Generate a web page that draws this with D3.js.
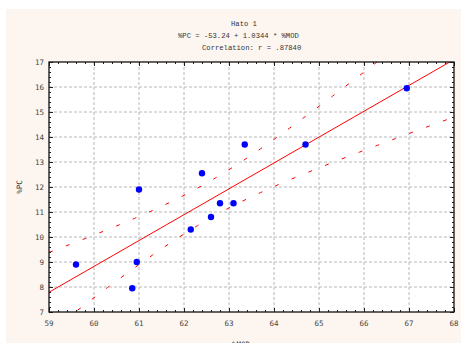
<!DOCTYPE html>
<html>
<head>
<meta charset="utf-8">
<script src="https://cdn.jsdelivr.net/npm/d3@7"></script>
<style>
  body { margin: 0; background: #fff; }
  text { font-family: "DejaVu Sans Mono", "Liberation Mono", monospace; }
  .title { font-family: "Liberation Mono", "DejaVu Sans Mono", monospace; }
</style>
</head>
<body>
<svg id="chart" width="461" height="343"></svg>
<script>
// data
const modValues = [59.6, 60.85, 60.95, 61.0, 62.15, 62.4, 62.6, 62.8, 63.1, 63.35, 64.7, 66.95];
const pcValues  = [8.9, 7.95, 9.0, 11.9, 10.3, 12.55, 10.8, 11.35, 11.35, 13.7, 13.7, 15.95];
const coef = [-53.24, 1.0344];           // intercept, slope (from title)
const titleLines = ["Hato 1", "%PC = -53.24 + 1.0344 * %MOD", "Correlation: r = .87840"];
const xTicks = [59, 60, 61, 62, 63, 64, 65, 66, 67, 68];
const yTicks = [7, 8, 9, 10, 11, 12, 13, 14, 15, 16, 17];

const margin = { top: 62, left: 49, right: 7, bottom: 31 };
const W = 461, H = 343;
const width = W - margin.left - margin.right;
const height = H - margin.top - margin.bottom;

const svg = d3.select('#chart');

// cream background
svg.append('rect').attr('x', 6).attr('y', 9).attr('width', W - 6).attr('height', H - 9)
    .style('fill', '#fdf6f0');

const xScale = d3.scaleLinear().domain([59, 68]).range([margin.left, margin.left + width]);
const yScale = d3.scaleLinear().domain([7, 17]).range([margin.top + height, margin.top]);

svg.append('defs').append('clipPath').attr('id', 'plotclip')
    .append('rect')
    .attr('x', margin.left).attr('y', margin.top)
    .attr('width', width).attr('height', height);

// plot area
svg.append('rect')
    .attr('x', margin.left).attr('y', margin.top)
    .attr('width', width).attr('height', height)
    .style('fill', '#fff');

// grid
const grid = svg.append('g').attr('class', 'grid');
grid.selectAll('.gx').data(xTicks.slice(1, -1)).enter().append('line')
    .attr('x1', d => xScale(d)).attr('x2', d => xScale(d))
    .attr('y1', margin.top).attr('y2', margin.top + height)
    .style('stroke', '#b8b8b8').style('stroke-dasharray', '3,2');
grid.selectAll('.gy').data(yTicks.slice(1, -1)).enter().append('line')
    .attr('y1', d => yScale(d)).attr('y2', d => yScale(d))
    .attr('x1', margin.left).attr('x2', margin.left + width)
    .style('stroke', '#b8b8b8').style('stroke-dasharray', '3,2');

// regression + 95% confidence bands
const n = modValues.length;
const xMean = d3.mean(modValues);
const sxx = d3.sum(modValues, d => (d - xMean) * (d - xMean));
const fit = x => coef[0] + coef[1] * x;
const sse = d3.sum(modValues, (d, i) => Math.pow(pcValues[i] - fit(d), 2));
const s = Math.sqrt(sse / (n - 2));
const tCrit = 2.228;
const xs = d3.range(59, 68.001, 0.1);
const band = sign => xs.map(x => [x, fit(x) + sign * tCrit * s * Math.sqrt(1 / n + (x - xMean) * (x - xMean) / sxx)]);

const line = d3.line().x(d => xScale(d[0])).y(d => yScale(d[1]));
const plot = svg.append('g').attr('clip-path', 'url(#plotclip)');

plot.append('path').datum([[59, fit(59)], [68, fit(68)]])
    .attr('d', line)
    .style('fill', 'none').style('stroke', '#ff0000').style('stroke-width', 1);
[1, -1].forEach(sign => {
    plot.append('path').datum(band(sign))
        .attr('d', line)
        .style('fill', 'none').style('stroke', '#ff0000').style('stroke-width', 1)
        .style('stroke-dasharray', '4,14');
});

// points
plot.selectAll('.pt').data(modValues).enter().append('circle')
    .attr('class', 'pt')
    .attr('cx', d => xScale(d))
    .attr('cy', (d, i) => yScale(pcValues[i]))
    .attr('r', 3.2)
    .style('fill', '#0000ff');

// axes (ticks inside)
const minorX = d3.range(59, 68.001, 0.2);
const minorY = d3.range(7, 17.001, 0.2);
svg.append('g').attr('transform', `translate(0, ${margin.top + height})`)
    .call(d3.axisTop(xScale).tickValues(minorX).tickSize(2).tickFormat(''));
svg.append('g').attr('transform', `translate(0, ${margin.top + height})`)
    .call(d3.axisTop(xScale).tickValues(xTicks).tickSize(4).tickFormat(''));
svg.append('g').attr('transform', `translate(0, ${margin.top})`)
    .call(d3.axisBottom(xScale).tickValues(minorX).tickSize(2).tickFormat(''));
svg.append('g').attr('transform', `translate(0, ${margin.top})`)
    .call(d3.axisBottom(xScale).tickValues(xTicks).tickSize(4).tickFormat(''));
svg.append('g').attr('transform', `translate(${margin.left}, 0)`)
    .call(d3.axisRight(yScale).tickValues(minorY).tickSize(2).tickFormat(''));
svg.append('g').attr('transform', `translate(${margin.left}, 0)`)
    .call(d3.axisRight(yScale).tickValues(yTicks).tickSize(4).tickFormat(''));
svg.append('g').attr('transform', `translate(${margin.left + width}, 0)`)
    .call(d3.axisLeft(yScale).tickValues(minorY).tickSize(2).tickFormat(''));
svg.append('g').attr('transform', `translate(${margin.left + width}, 0)`)
    .call(d3.axisLeft(yScale).tickValues(yTicks).tickSize(4).tickFormat(''));
svg.selectAll('.domain').remove();
svg.selectAll('.tick line').style('stroke', '#222');

// frame
svg.append('rect')
    .attr('x', margin.left).attr('y', margin.top)
    .attr('width', width).attr('height', height)
    .style('fill', 'none').style('stroke', '#111').style('stroke-width', 1.3);

// tick labels
svg.selectAll('.xl').data(xTicks).enter().append('text')
    .attr('x', d => xScale(d)).attr('y', margin.top + height + 14)
    .attr('text-anchor', 'middle')
    .style('font-size', '7.5px').style('fill', '#444')
    .text(d => d);
svg.selectAll('.yl').data(yTicks).enter().append('text')
    .attr('x', margin.left - 5).attr('y', d => yScale(d) + 2.5)
    .attr('text-anchor', 'end')
    .style('font-size', '7.5px').style('fill', '#444')
    .text(d => d);

// titles
const titleX = [231, 178, 202];
const titleY = [26, 38, 50];
svg.selectAll('.title').data(titleLines).enter().append('text')
    .attr('class', 'title')
    .attr('x', (d, i) => titleX[i]).attr('y', (d, i) => titleY[i])
    .style('font-size', '7.2px').style('fill', '#333')
    .text(d => d);

// axis labels
svg.append('text')
    .attr('transform', `translate(22, ${(margin.top * 2 + height) / 2}) rotate(-90)`)
    .attr('text-anchor', 'middle')
    .style('font-size', '7.5px').style('fill', '#333')
    .text('%PC');
svg.append('text')
    .attr('x', 241).attr('y', 347)
    .attr('text-anchor', 'middle')
    .style('font-size', '7.5px').style('fill', '#333')
    .text('%MOD');
</script>
</body>
</html>
